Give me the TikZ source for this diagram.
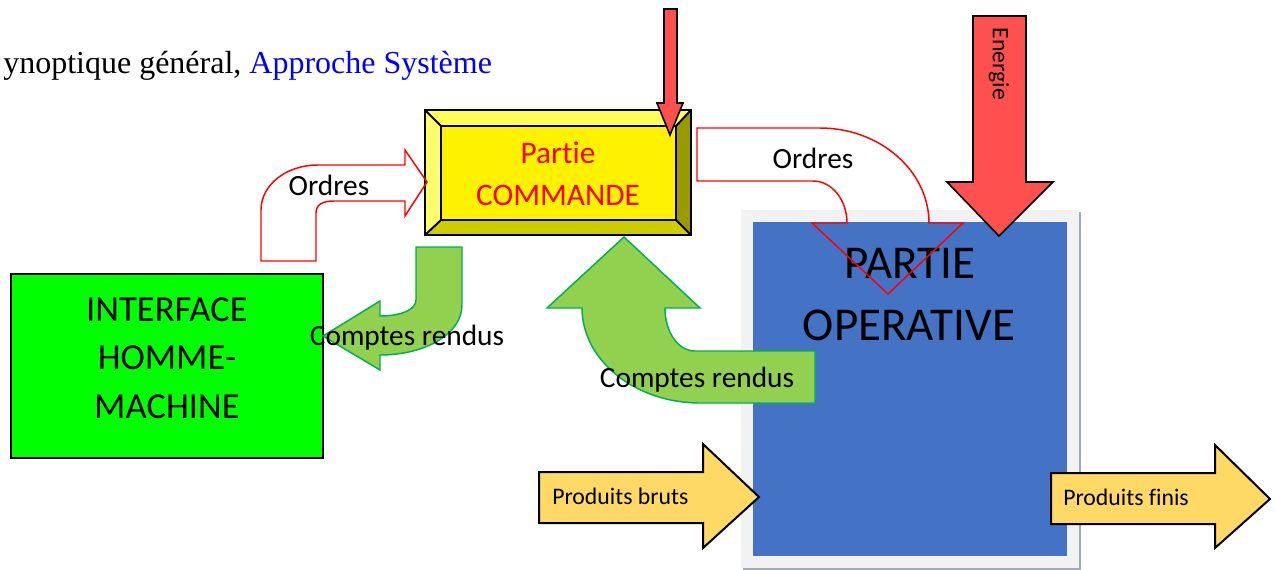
\documentclass[tikz,border=0pt]{standalone}
\usepackage{fontspec}
\setmainfont{Carlito}[Ligatures={NoCommon}]
\newfontfamily\timesf{Liberation Serif}
\definecolor{redarrow}{RGB}{255,80,80}
\definecolor{poblue}{RGB}{68,114,196}
\definecolor{frame}{RGB}{242,242,242}
\definecolor{shadowc}{RGB}{160,170,190}
\definecolor{greenfill}{RGB}{146,208,80}
\definecolor{greenline}{RGB}{0,176,80}
\definecolor{prodfill}{RGB}{255,217,102}
\definecolor{bevtop}{RGB}{255,255,90}
\definecolor{bevleft}{RGB}{255,255,110}
\definecolor{bevright}{RGB}{153,153,0}
\definecolor{bevbot}{RGB}{204,204,0}
\definecolor{ihmgreen}{RGB}{0,255,0}
\begin{document}
\begin{tikzpicture}[x=0.75pt,y=-0.75pt,
  lbl/.style={inner sep=0pt, anchor=base},
  blk/.style={draw=black, line width=1.5pt, line join=miter},
  redout/.style={draw=red, line width=1.1pt, line join=miter},
  greenarrow/.style={fill=greenfill, draw=greenline, line width=1.1pt, line join=miter},
  prodarrow/.style={fill=prodfill, draw=black, line width=1.5pt, line join=miter},
  redblock/.style={fill=redarrow, draw=black, line width=1.2pt, line join=miter}]
\useasboundingbox (0,0) rectangle (1275,569);

% title
\node[lbl, anchor=base west] (title) at (3,73) {\timesf\fontsize{24pt}{28pt}\selectfont ynoptique général, \textcolor{blue}{Approche Système}};

% INTERFACE box
\draw[fill=ihmgreen, draw=black, line width=1.5pt] (11,274) rectangle (323,458);
\node[lbl] (ihm1) at (167,321) {\fontsize{27.5pt}{33pt}\selectfont INTERFACE};
\node[lbl] (ihm2) at (167,369) {\fontsize{27.5pt}{33pt}\selectfont HOMME-};
\node[lbl] (ihm3) at (167,418) {\fontsize{27.5pt}{33pt}\selectfont MACHINE};

% Partie COMMANDE bevel box
\coordinate (o1) at (425,110); \coordinate (o2) at (691,110);
\coordinate (o3) at (691,235); \coordinate (o4) at (425,235);
\coordinate (i1) at (441,126); \coordinate (i2) at (676,126);
\coordinate (i3) at (676,220); \coordinate (i4) at (441,220);
\fill[bevtop] (o1) -- (o2) -- (i2) -- (i1) -- cycle;
\fill[bevleft] (o1) -- (i1) -- (i4) -- (o4) -- cycle;
\fill[bevright] (o2) -- (o3) -- (i3) -- (i2) -- cycle;
\fill[bevbot] (o4) -- (o3) -- (i3) -- (i4) -- cycle;
\fill[yellow] (i1) rectangle (i3);
\draw[blk] (o1) rectangle (o3);
\draw[blk] (i1) rectangle (i3);
\draw[blk] (o1) -- (i1) (o2) -- (i2) (o3) -- (i3) (o4) -- (i4);
\node[lbl, text=red] (pc1) at (558,163) {\fontsize{23.5pt}{28pt}\selectfont Partie};
\node[lbl, text=red] (pc2) at (558,205) {\fontsize{23.5pt}{28pt}\selectfont COMMANDE};

% PARTIE OPERATIVE box
\fill[shadowc] (743,212) rectangle (1081,570);
\fill[frame] (741,210) rectangle (1079,568);
\fill[poblue] (753,222) rectangle (1067,556);
\node[lbl] (po1) at (910,278) {\fontsize{35.3pt}{42pt}\selectfont PARTIE};
\node[lbl] (po2) at (909,340) {\fontsize{35.3pt}{42pt}\selectfont OPERATIVE};

% Ordres arrow (left)
\draw[redout] (261,261) -- (261,210) .. controls (261,185) and (286,165) .. (318,165)
  -- (405,165) -- (405,150) -- (427,182) -- (405,216) -- (405,201) -- (334,201)
  .. controls (322,201) and (316,205) .. (316,213) -- (316,261) -- cycle;
\node[lbl] (ord1) at (329,195) {\fontsize{22pt}{26pt}\selectfont Ordres};

% Ordres arrow (right)
\draw[redout] (697,128) -- (820,128) .. controls (880,128) and (929,171) .. (929,223)
  -- (963,223) -- (888,294) -- (812,223) -- (847,223)
  .. controls (847,200) and (832,181) .. (813,181) -- (697,181) -- cycle;
\node[lbl] (ord2) at (813,168) {\fontsize{22pt}{26pt}\selectfont Ordres};

% Energie arrow
\draw[redblock] (973,16) -- (1026,16) -- (1026,182) -- (1053,182) -- (999,236)
  -- (947,182) -- (973,182) -- cycle;
\node[inner sep=0pt, rotate=-90] (energ) at (999,64) {\fontsize{17.8pt}{21pt}\selectfont Energie};

% top red arrow
\draw[redblock] (664,9) -- (677,9) -- (677,103) -- (683,103) -- (670,135)
  -- (657,103) -- (664,103) -- cycle;

% green small arrow
\draw[greenarrow] (416,247) -- (462,247) -- (462,305) .. controls (462,334) and (425,355) .. (380,355)
  -- (380,370) -- (323,336) -- (380,301) -- (380,316)
  .. controls (400,316) and (416,310) .. (416,300) -- cycle;
\node[lbl] (cr1) at (407,345) {\fontsize{22pt}{26pt}\selectfont Comptes rendus};

% green big arrow
\draw[greenarrow] (624,237) -- (700,308) -- (665,308)
  .. controls (665,332) and (678,351) .. (695,351) -- (815,351) -- (815,403) -- (700,403)
  .. controls (635,403) and (582,360) .. (582,308) -- (547,308) -- cycle;
\node[lbl] (cr2) at (697,387) {\fontsize{22pt}{26pt}\selectfont Comptes rendus};

% Produits arrows
\draw[prodarrow] (539,472) -- (703,472) -- (703,444) -- (759,497) -- (703,548)
  -- (703,523) -- (539,523) -- cycle;
\node[lbl, anchor=base west] (pb) at (552,504) {\fontsize{17.8pt}{21pt}\selectfont Produits bruts};
\draw[prodarrow] (1051,473) -- (1215,473) -- (1215,445) -- (1270,499) -- (1215,548)
  -- (1215,524) -- (1051,524) -- cycle;
\node[lbl, anchor=base west] (pf) at (1063,505) {\fontsize{17.8pt}{21pt}\selectfont Produits finis};
\end{tikzpicture}
\end{document}
